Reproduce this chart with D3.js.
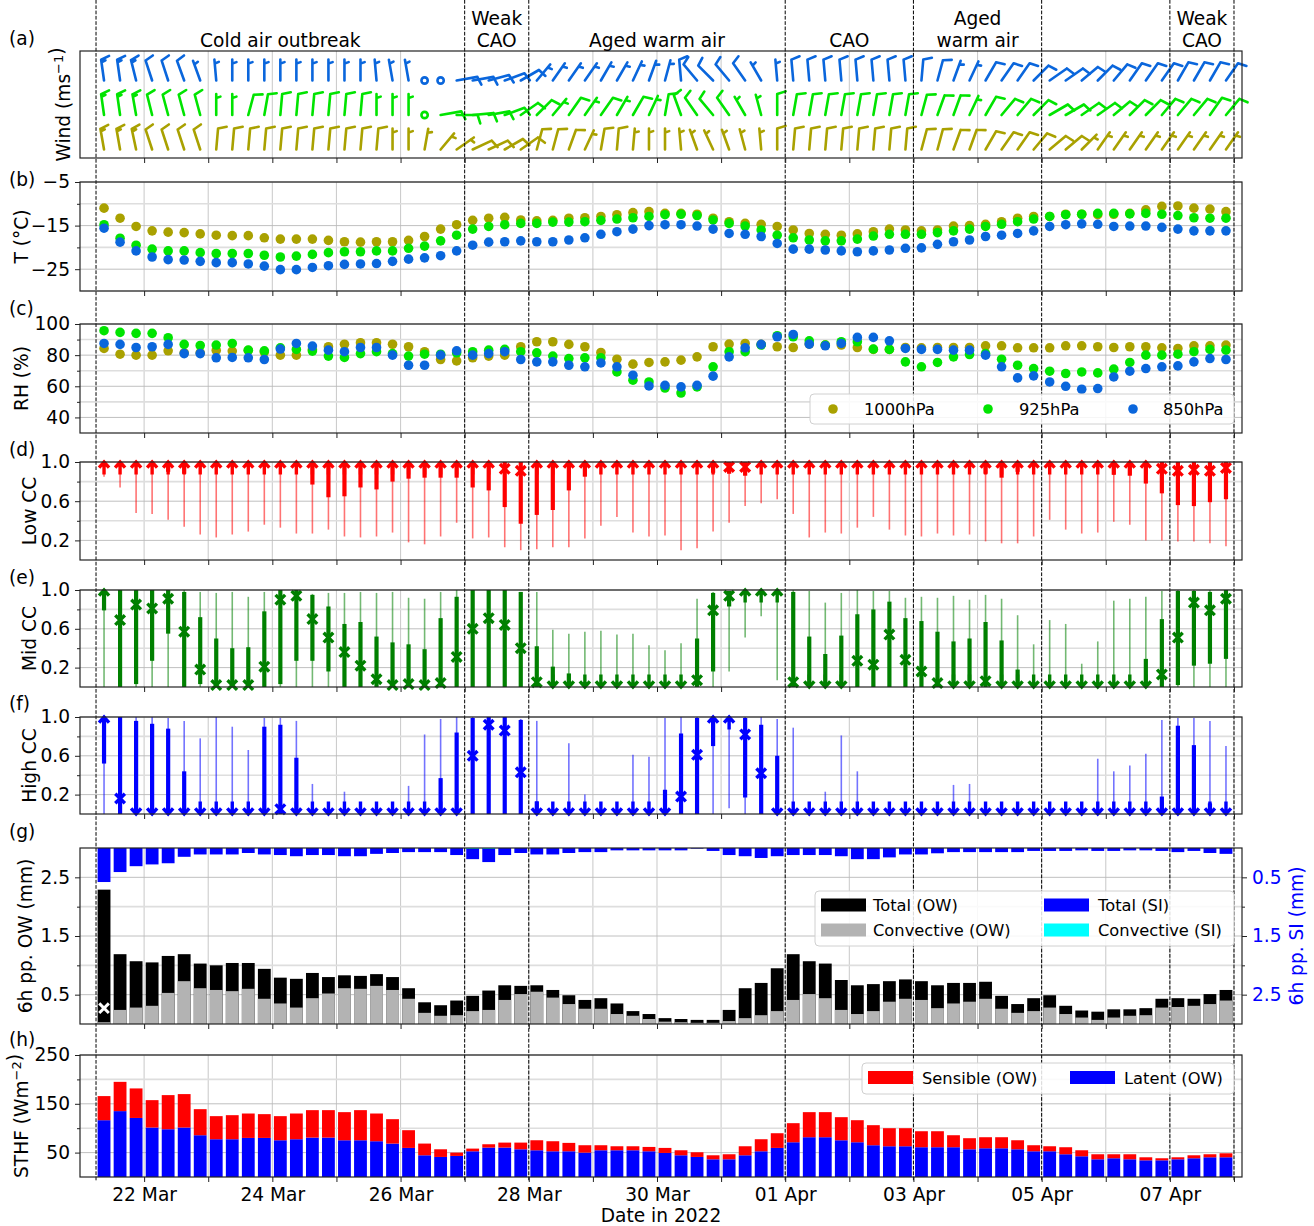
<!DOCTYPE html>
<html><head><meta charset="utf-8">
<script src="https://cdn.jsdelivr.net/npm/d3@7"></script>
<style>
body{margin:0;background:#fff;}
svg{display:block;font-family:"DejaVu Sans",sans-serif;}
</style></head><body>
<svg id="chart" width="1314" height="1226"></svg>
<script>
// ---------------- DATA ----------------
const startTime = "2022-03-21T09:00Z";   // first 6-hourly sample
const stepHours = 6;
const nSamples = 71;
const xDomain = ["2022-03-21T00:00Z", "2022-04-08T03:00Z"];
const periodBounds = ["2022-03-21T06:00Z","2022-03-27T00:00Z","2022-03-28T00:00Z","2022-04-01T00:00Z","2022-04-03T00:00Z","2022-04-05T00:00Z","2022-04-07T00:00Z","2022-04-08T00:00Z"];
const periodLabels = [["Cold air outbreak"],["Weak","CAO"],["Aged warm air"],["CAO"],["Aged","warm air"],[],["Weak","CAO"]];
const levels = ["1000hPa","925hPa","850hPa"];

// (a) wind barbs: speed (m/s) and direction wind comes from (deg)
const spd1000 = [15,15,15,10,10,10,10,10,10,10, 10,10,10,10,10,10,10,10,5,5, 5,5,5,10,10,10,10,10,10,10, 5,10,10,5,5,5,5,5,5,5, 5,5,10,10,10,10,10,10,10,10, 10,10,10,10,10,10,10,10,10,10, 10,5,5,5,5,5,5,5,5,5, 5];
const dir1000 = [350,350,348,342,342,342,342,5,5,5, 5,5,5,5,5,5,5,5,0,0, 10,40,55,65,65,60,55,15,15,20, 25,10,5,5,0,0,355,340,335,340, 345,355,0,5,5,5,5,5,5,5, 5,15,15,20,20,30,35,35,40,50, 50,45,35,35,35,35,35,35,35,35, 35];
const spd925 = [15,15,15,10,10,10,10,5,5,10, 10,10,10,10,10,10,10,5,5,5, 0,10,10,10,10,10,10,10,5,10, 5,10,5,10,5,10,10,10,10,10, 5,5,10,10,10,10,10,10,10,10, 10,10,10,10,5,10,10,10,10,10, 10,10,10,10,10,10,10,10,10,10, 10];
const dir925 = [352,352,350,346,345,345,345,0,0,15, 10,5,5,5,5,5,5,0,0,0, 0,80,90,85,80,70,55,45,40,35, 35,35,30,30,25,10,340,325,320,325, 330,345,0,10,10,10,10,10,10,10, 10,15,20,20,25,30,40,40,45,60, 60,55,55,50,45,45,40,40,40,35, 40];
const spd850 = [15,15,15,10,10,10,5,5,5,5, 5,5,5,5,5,5,5,5,5,5, 0,0,10,10,10,10,10,5,5,5, 5,5,5,5,5,5,10,10,10,10, 10,5,5,10,10,10,10,10,10,10, 10,10,10,5,5,10,10,10,10,10, 10,10,10,10,10,10,10,10,10,10, 10];
const dir850 = [352,352,346,342,342,340,340,355,0,0, 0,0,0,0,0,0,0,355,350,350, 0,0,80,80,75,70,60,40,35,35, 35,30,30,25,20,15,355,320,315,320, 325,330,355,355,355,355,355,355,355,355, 355,5,15,20,25,30,35,35,45,55, 55,50,45,40,35,35,35,30,30,30, 35];

// (b) temperature (°C)
const t1000 = [-11.0,-13.3,-15.2,-16.2,-16.5,-16.6,-16.9,-17.2,-17.3,-17.3, -17.8,-18.1,-18.1,-18.1,-18.4,-18.7,-18.8,-18.7,-18.7,-18.4, -17.5,-15.8,-14.8,-13.8,-13.3,-13.1,-13.7,-13.9,-13.8,-13.3, -13.2,-12.9,-12.5,-12.0,-11.8, -12.2,-12.2,-12.4,-13.3,-14.1,-14.5,-14.7,-15.2,-16.0,-16.8, -17.0,-17.2,-16.9,-16.4,-15.8,-16.0,-16.2,-16.0,-15.1,-15.0, -14.7,-14.1,-13.3,-12.9,-12.9,-12.4,-12.4,-12.5,-12.4,-12.2, -11.4,-10.6,-10.5,-11.0,-11.2,-11.8];
const t925 = [-14.8,-17.9,-19.5,-20.4,-20.8,-20.8,-21.2,-21.4,-21.4,-21.4, -21.8,-22.2,-22.0,-21.6,-21.2,-21.0,-21.0,-20.8,-20.8,-20.2, -19.7,-18.5,-17.2,-15.8,-15.2,-14.8,-14.5,-14.5,-14.2,-14.2, -14.1,-13.8,-13.5,-13.2,-12.9, -12.5,-12.4,-12.7,-13.7,-14.5,-15.1,-16.0,-17.2,-17.8,-18.3, -18.5,-18.5,-18.1,-17.4,-17.0,-17.0,-17.0,-16.6,-16.2,-15.8, -15.2,-14.7,-14.1,-13.5,-12.9,-12.5,-12.4,-12.2,-12.2,-12.3, -12.2,-12.4,-12.7,-13.2,-13.3,-13.3];
const t850 = [-15.6,-18.8,-20.8,-22.2,-22.8,-22.9,-23.2,-23.5,-23.5,-23.8, -24.3,-25.1,-25.1,-24.6,-24.2,-23.9,-23.8,-23.7,-23.2,-22.7, -22.4,-21.9,-20.8,-19.5,-18.8,-18.7,-18.5,-18.7,-18.7,-18.3, -17.8,-17.0,-16.4,-15.8,-15.0, -14.8,-14.8,-15.1,-15.8,-16.8,-17.0,-17.5,-19.1,-20.4,-20.4, -20.6,-20.8,-21.0,-20.8,-20.6,-20.2,-20.1,-19.3,-18.7,-18.3, -17.5,-17.2,-16.8,-16.2,-15.2,-14.8,-14.6,-14.7,-15.2,-15.1, -15.1,-15.4,-15.8,-16.2,-16.2,-16.2];

// (c) relative humidity (%)
const rh1000 = [84.3,80.6,80,80,82.8,81.5,81.5,83,82.6,83, 82,80,80,83.7,85.4,87,88,88,87,85.4, 82.2,77.2,76.3,78.3,79.4,80,85.4,88.6,88.6,86.9, 85.4,81.7,77.4,74.2,75.3, 75.7,76.8,78.9,85.4,87.1,87.5,86.9,85.4,84.9,87.1, 86.5,86.5,84.9,83.7,83.7,84.9,84.7,84.9,84.9,84.9, 86,86,84.7,84.7,84.7,86,86,85.4,84.9,85.4, 85.4,84.7,84.3,86,86,86.5];
const rh925 = [95.7,94.6,94,94,91.2,86.9,86.2,86.5,87.5,83.2, 82.8,84.7,83.7,82.6,79.4,78.5,81,82.2,81,79.4, 80.6,80.6,81.5,82.2,83.2,83.7,82.2,81.5,79.4,77.8, 78.3,78.3,69.2,63.9,62.8, 58.9,55.7,59.6,72.5,82.2,82.2,86.5,92.5,91.8,89.2, 86.5,88.6,88.6,83.9,83.7,75.7,72.5,75.3,78.9,80.4, 81,77.4,73.5,71.4,69.7,68.2,69.2,68.6,71,75.3, 80,80,80.6,82.2,83.7,83.2];
const rh850 = [87.5,86.9,84.9,85.4,86.9,81,81,78.3,78.5,78.3, 77.2,83.9,87.5,85.8,83.2,82.2,84.9,84.9,80,73.5, 73.5,80,82.8,80,81,82.2,77.2,75.7,75.7,73.5, 72.5,75,72.5,67.1,60.2, 60.6,59.6,60.6,66.5,78.9,84.7,86.9,91.8,93.3,87.1, 86,87.5,91.4,91.4,89.2,84.3,83.7,83.7,83.2,83.2, 80,72.5,65.4,66.7,62.8,60,58.1,58.5,66,69.7, 71.4,72.5,73.1,75.7,77.8,77.2];

// (d) low cloud cover: range (min/max), inner range (q1/q3), central value
const lowMin = [0.85,0.74,0.48,0.47,0.41,0.34,0.26,0.23,0.26,0.29, 0.36,0.33,0.27,0.27,0.31,0.24,0.23,0.24,0.28,0.18, 0.16,0.24,0.38,0.22,0.23,0.13,0.10,0.11,0.13,0.13, 0.22,0.35,0.44,0.28,0.24, 0.25,0.10,0.12,0.29,0.38,0.55,0.58,0.62,0.47,0.23, 0.28,0.27,0.33,0.44,0.31,0.25,0.24,0.27,0.25,0.26, 0.19,0.17,0.17,0.24,0.41,0.31,0.27,0.28,0.39,0.36, 0.20,0.20,0.19,0.19,0.17,0.14];
const lowQ1 = [0.97,0.97,0.97,0.97,0.90,0.88,0.97,0.97,0.97,0.97, 0.97,0.97,0.97,0.77,0.64,0.65,0.74,0.72,0.80,0.83, 0.84,0.84,0.84,0.74,0.71,0.54,0.37,0.46,0.51,0.71, 0.85,0.97,0.97,0.97,0.97, 0.97,0.97,0.97,0.89,0.88,0.86,0.97,0.97,0.97,0.97, 0.97,0.97,0.97,0.97,0.97,0.97,0.97,0.97,0.97,0.97, 0.88,0.84,0.90,0.97,0.97,0.97,0.97,0.97,0.87,0.86, 0.78,0.68,0.56,0.55,0.59,0.62];
const lowQ3 = [1,1,1,1,1,1,1,1,1,1, 1,1,1,1,1,1,1,1,1,1, 1,1,1,1,1,1,1,1,1,1, 1,1,1,1,1, 1,1,1,1,1,1,1,1,1,1, 1,1,1,1,1,1,1,1,1,1, 1,1,1,1,1,1,1,1,1,1, 1,1,1,1,1,1];
const lowMax = [1,1,1,1,1,1,1,1,1,1, 1,1,1,1,1,1,1,1,1,1, 1,1,1,1,1,1,1,1,1,1, 1,1,1,1,1, 1,1,1,1,1,1,1,1,1,1, 1,1,1,1,1,1,1,1,1,1, 1,1,1,1,1,1,1,1,1,1, 1,1,1,1,1,1];
const lowMed = [1,1,1,1,1,1,1,1,1,1, 1,1,1,1,1,1,1,1,1,1, 1,1,1,1,1,0.93,0.91,1,1,1, 1,1,1,1,1, 1,1,1,1,0.95,0.95,1,1,1,1, 1,1,1,1,1,1,1,1,1,1, 1,1,1,1,1,1,1,1,1,1, 1,0.93,0.91,0.92,0.91,0.94];

// (e) mid cloud cover
const midMin = [0,0,0,0,0,0,0,0,0,0, 0,0,0,0,0,0,0,0,0,0, 0,0,0,0,0,0,0,0,0,0, 0,0,0,0,0, 0,0,0,0,0.16,0.51,0.73,0.07,0,0, 0,0,0,0,0,0,0,0,0,0, 0,0,0,0,0,0,0,0,0,0, 0,0,0,0,0,0];
const midQ1 = [0.79,0,0.03,0.27,0.55,0,0.03,0,0,0, 0,0.03,0.27,0.27,0.16,0,0,0,0,0, 0,0,0,0,0,0,0,0,0,0, 0,0,0,0,0, 0,0,0,0.16,0.83,0.98,0.98,0.98,0,0, 0,0,0,0,0,0,0,0,0,0, 0,0,0,0,0,0,0,0,0,0, 0,0,0.02,0.22,0.24,0.29];
const midQ3 = [1,1,1,1,1,0.98,0.72,0.50,0.40,0.41, 0.78,1,1,0.95,0.83,0.65,0.67,0.52,0.46,0.44, 0.39,0.71,0.93,1,1,1,0.98,0.42,0.21,0.14, 0.05,0.03,0.03,0.03,0.03, 0.03,0.03,0.50,0.97,0.99,1,1,1,0.98,0.52, 0.34,0.53,0.75,0.80,0.88,0.71,0.68,0.57,0.47,0.50, 0.67,0.48,0.18,0.03,0.03,0.03,0.03,0.03,0.03,0.03, 0.29,0.70,0.99,0.99,0.98,1];
const midMax = [1,1,1,1,1,1,0.98,0.97,0.98,0.93, 0.98,1,1,0.96,0.97,0.97,0.98,0.97,0.98,0.92, 0.91,0.98,1,1,1,1,0.98,0.98,0.59,0.55, 0.57,0.58,0.54,0.55,0.43, 0.38,0.45,0.91,0.98,0.99,1,1,1,1,0.99, 0.87,0.97,1,0.99,0.99,0.92,0.93,0.92,0.94,0.90, 0.95,0.91,0.74,0.44,0.69,0.65,0.24,0.47,0.89,0.91, 0.93,0.99,1,1,1,1];
const midMed = [1,0.69,0.85,0.81,0.91,0.57,0.18,0.02,0.02,0.02, 0.21,0.90,0.94,0.70,0.51,0.36,0.22,0.08,0.02,0.03, 0.02,0.04,0.31,0.60,0.71,0.64,0.40,0.05,0,0, 0,0,0,0,0, 0,0,0.07,0.79,0.94,1,1,1,0.05,0, 0,0,0.27,0.23,0.54,0.28,0.16,0.04,0,0, 0.06,0,0,0,0,0,0,0,0,0, 0,0.13,0.51,0.87,0.79,0.91];

// (f) high cloud cover
const highMin = [0,0,0,0,0,0,0,0,0,0, 0,0,0,0,0,0,0,0,0,0, 0,0,0,0,0,0,0,0,0,0, 0,0,0,0,0, 0,0,0,0,0.06,0,0,0,0,0, 0,0,0,0,0,0,0,0,0,0, 0,0,0,0,0,0,0,0,0,0, 0,0,0,0,0,0];
const highQ1 = [0.52,0,0,0,0,0,0,0,0,0, 0,0,0,0,0,0,0,0,0,0, 0,0,0,0,0,0,0,0,0,0, 0,0,0,0,0, 0,0,0,0.70,1,0.17,0,0,0,0, 0,0,0,0,0,0,0,0,0,0, 0,0,0,0,0,0,0,0,0,0, 0,0,0,0,0,0];
const highQ3 = [1,1,0.96,0.93,0.88,0.44,0.02,0.02,0.02,0.02, 0.90,0.92,0.58,0.02,0.02,0.02,0.02,0.02,0.02,0.02, 0.02,0.37,0.84,0.99,1,1,0.97,0.13,0.02,0.02, 0.02,0.02,0.02,0.02,0.02, 0.25,0.83,0.99,1,1,0.99,0.92,0.60,0.02,0.02, 0.02,0.02,0.02,0.02,0.02,0.02,0.02,0.02,0.02,0.02, 0.02,0.02,0.02,0.02,0.02,0.02,0.02,0.02,0.02,0.02, 0.02,0.18,0.91,0.71,0.11,0.02];
const highMax = [1,1,1,1,0.99,0.96,0.78,1,0.90,0.66, 0.99,0.99,0.96,0.31,0.03,0.23,0.02,0.02,0.02,0.29, 0.82,0.98,1,1,1,1,0.98,0.96,0.02,0.73, 0.20,0.02,0.12,0.61,0.59, 0.99,1,1,1,1,1,1,0.98,0.89,0.02, 0.23,0.81,0.44,0.02,0.02,0.02,0.02,0.02,0.30,0.31, 0.05,0.02,0.02,0.02,0.02,0.02,0.02,0.57,0.44,0.50, 0.62,0.97,0.99,0.99,0.96,0.70];
const highMed = [1,0.16,0,0,0,0,0,0,0,0, 0,0.05,0,0,0,0,0,0,0,0, 0,0,0,0.60,0.92,0.86,0.43,0,0,0, 0,0,0,0,0, 0,0.18,0.61,1,1,0.82,0.42,0,0,0, 0,0,0,0,0,0,0,0,0,0, 0,0,0,0,0,0,0,0,0,0, 0,0,0,0,0,0];

// (g) 6h precipitation (mm)
const owTotal = [2.29,1.19,1.07,1.05,1.16,1.19,1.03,1.00,1.04,1.04, 0.94,0.79,0.77,0.87,0.80,0.83,0.82,0.85,0.80,0.61, 0.37,0.32,0.40,0.48,0.57,0.66,0.65,0.66,0.58,0.49, 0.41,0.44,0.35,0.22,0.17, 0.10,0.085,0.07,0.07,0.24,0.61,0.70,0.95,1.19,1.07, 1.03,0.75,0.66,0.68,0.73,0.76,0.73,0.66,0.70,0.70, 0.72,0.48,0.34,0.44,0.49,0.31,0.23,0.21,0.25,0.25, 0.27,0.43,0.44,0.43,0.51,0.58];
const owConv = [0.03,0.24,0.28,0.31,0.53,0.73,0.61,0.58,0.56,0.60, 0.43,0.35,0.28,0.44,0.52,0.61,0.60,0.65,0.58,0.43, 0.19,0.14,0.15,0.22,0.24,0.41,0.51,0.55,0.45,0.34, 0.26,0.26,0.17,0.14,0.085, 0.04,0.03,0.02,0.02,0.05,0.10,0.15,0.22,0.41,0.51, 0.44,0.24,0.17,0.22,0.38,0.43,0.41,0.27,0.35,0.38, 0.43,0.26,0.19,0.22,0.28,0.17,0.11,0.07,0.11,0.14, 0.15,0.28,0.29,0.31,0.34,0.40];
const siTotal = [0.58,0.41,0.31,0.28,0.26,0.15,0.11,0.11,0.11,0.085, 0.11,0.12,0.14,0.12,0.12,0.14,0.14,0.10,0.085,0.07, 0.07,0.07,0.12,0.19,0.24,0.12,0.085,0.11,0.11,0.085, 0.07,0.07,0.04,0.04,0.04, 0.04,0.04,0.01,0.05,0.12,0.14,0.17,0.14,0.12,0.12, 0.12,0.14,0.19,0.19,0.16,0.11,0.11,0.09,0.07,0.07, 0.07,0.07,0.07,0.05,0.05,0.05,0.04,0.05,0.05,0.04, 0.04,0.05,0.07,0.05,0.085,0.10];
const siConv = [0,0,0,0,0,0,0,0,0,0, 0,0,0,0,0,0,0,0,0,0, 0,0,0,0.015,0.015,0,0,0,0,0, 0,0,0,0,0, 0,0,0,0,0,0,0,0,0,0, 0,0,0,0,0,0,0,0,0,0, 0,0,0,0,0,0,0,0,0,0, 0,0,0,0,0,0];
const owFlag = [0.27]; // white cross on first bar

// (h) surface turbulent heat flux (W m-2)
const latent = [116.4,135,121,101.4,97.9,101.4,85.6,77.4,77.4,80.1, 80.1,75.3,77.4,80.8,80.8,75.3,75.3,73.3,68.5,59.6, 44.5,41.1,43.2,52.7,60.3,60.3,56.8,54.8,52.7,52.7, 50,54.8,54.8,54.8,52.7, 49.3,44.5,41.1,36.3,36.3,44.5,52.7,59.6,71.2,81.5, 81.5,75.3,71.2,65.1,63,63,61,61,61,56.8, 58.9,58.9,56.8,52.7,52.7,46.6,42.5,36.3,38.4,36.3, 34.2,34.2,36.3,38.4,40.4,40.4];
const sensible = [49.4,60,60.5,56.1,69.9,68.5,53.4,47.3,49.3,50, 48.7,49.4,52.7,56.2,56.2,57.6,61.7,56.8,50,36.3, 24,15.7,6.8,5.5,6.8,10.2,13.7,20.5,20.6,17.2, 15.1,10.3,8.2,8.2,8.9, 10.3,10.3,9.6,8.2,10.3,18.5,24.7,30.1,39.1,51.4, 51.4,47.3,45.2,41.1,37,37,32.8,32.8,24.6,22.7, 22.6,22.6,18.5,12.4,10.3,14.4,12.3,10.3,8.2,10.3, 6.2,4.2,4.1,6.1,6.2,8.2];

// ---------------- DRAWING ----------------
const FS = 18.6, LFS = 16.3;
const svg = d3.select("#chart");
const X0 = 80, X1 = 1242;
const times = d3.range(nSamples).map(i => new Date(Date.parse(startTime) + i*stepHours*3600e3));
const x = d3.scaleUtc().domain(xDomain.map(d => new Date(d))).range([X0, X1]);
const dayTicks = d3.utcDay.range(new Date("2022-03-22T00:00Z"), new Date(xDomain[1]));
const bw = (x(new Date(Date.parse(startTime) + stepHours*3600e3)) - x(new Date(startTime))) * 0.8;

const P = { a:[51,158], b:[182,291], c:[324,433], d:[462,560], e:[590,687], f:[717,814], g:[848,1024], h:[1055,1177] };

const gridL = svg.append("g"), dataL = svg.append("g"), dashL = svg.append("g"), axL = svg.append("g"), legL = svg.append("g");

function makeY(key, dom){ return d3.scaleLinear().domain(dom).range([P[key][1], P[key][0]]); }

function grid(key, y, major, minor){
  const [t,b] = P[key];
  gridL.append("g").selectAll("line").data(dayTicks).join("line")
    .attr("x1", d=>x(d)).attr("x2", d=>x(d)).attr("y1", t).attr("y2", b)
    .attr("stroke","#cdcdcd").attr("stroke-width",1.1);
  if (y){
    gridL.append("g").selectAll("line").data(minor).join("line")
      .attr("x1",X0).attr("x2",X1).attr("y1",d=>y(d)).attr("y2",d=>y(d))
      .attr("stroke","#dedede").attr("stroke-width",1.6);
    gridL.append("g").selectAll("line").data(major).join("line")
      .attr("x1",X0).attr("x2",X1).attr("y1",d=>y(d)).attr("y2",d=>y(d))
      .attr("stroke","#b9b9b9").attr("stroke-width",0.9);
  }
}

function styleAxis(g, color){
  g.select(".domain").remove();
  g.selectAll("line").attr("stroke", color||"#222").attr("stroke-width",1);
  g.selectAll("text").attr("font-size",FS).attr("fill", color||"#000").attr("font-family","DejaVu Sans");
}

function axes(key, y, major, minor, fmt, bottomLabels){
  const [t,b] = P[key];
  const gx = axL.append("g").attr("transform",`translate(0,${b})`)
    .call(d3.axisBottom(x).tickValues(dayTicks).tickSize(5).tickPadding(6)
      .tickFormat((d,i)=> bottomLabels && i%2===0 ? d3.utcFormat("%d %b")(d) : ""));
  styleAxis(gx);
  if (y){
    const gy = axL.append("g").attr("transform",`translate(${X0},0)`)
      .call(d3.axisLeft(y).tickValues(major).tickSize(5).tickPadding(5).tickFormat(fmt));
    styleAxis(gy);
    const gm = axL.append("g").attr("transform",`translate(${X0},0)`)
      .call(d3.axisLeft(y).tickValues(minor).tickSize(3).tickFormat(""));
    styleAxis(gm);
  }
  axL.append("rect").attr("x",X0).attr("y",t).attr("width",X1-X0).attr("height",b-t)
    .attr("fill","none").attr("stroke","#222").attr("stroke-width",1.2);
}

function ylabel(xc, key, parts, color){
  const yc = (P[key][0]+P[key][1])/2;
  const t = axL.append("text").attr("transform",`translate(${xc+6.6},${yc}) rotate(-90)`)
    .attr("text-anchor","middle").attr("font-size",FS).attr("fill",color||"#000");
  parts.forEach(p=>{
    if (p.sup) { t.append("tspan").attr("dy",-7).attr("font-size",13).text(p.sup); t.append("tspan").attr("dy",7).text(""); }
    else t.append("tspan").text(p.t);
  });
}
function letter(txt, yb){ axL.append("text").attr("x",9).attr("y",yb).attr("font-size",FS).text(txt); }

const fmtNum = d3.format(".1f");
const fmtMinus = d => (d<0 ? "\u2212"+Math.abs(d) : ""+d);

// ---- (a) wind barbs
const yA = d3.scaleLinear().domain([1,3]).range([149.5,80.5]);
grid("a", null);
const L = 21;
function barbD(x0, y0, spd, dir){
  const r = dir*Math.PI/180, u = -Math.sin(r), v = -Math.cos(r);
  const rho = Math.atan2(v,u) + Math.PI/2, c = Math.cos(rho), s = Math.sin(rho);
  const Pt = (lx,ly) => `${(x0 + lx*c - ly*s).toFixed(2)},${(y0 - (lx*s + ly*c)).toFixed(2)}`;
  const h = 0.4*L, w = 0.25*L, sp = 0.125*L;
  let d = `M${Pt(0,0)}L${Pt(0,L)}`;
  let off = L;
  const nf = Math.floor(spd/10), half = (spd - nf*10) >= 5;
  for (let k=0;k<nf;k++){ d += `M${Pt(0,off)}L${Pt(h,off+w/2)}`; off -= sp; }
  if (half){ if (off===L) off -= 1.5*sp; d += `M${Pt(0,off)}L${Pt(h/2,off+w/4)}`; }
  return d;
}
const colL = ["#a9a100","#00e400","#0a66dc"];
const barbSets = [[spd1000,dir1000,1],[spd925,dir925,2],[spd850,dir850,3]];
barbSets.forEach(([sp,dr,lev],k)=>{
  const g = dataL.append("g").attr("stroke",colL[k]).attr("fill","none").attr("stroke-width",2.6).attr("stroke-linecap","round").attr("stroke-linejoin","round");
  times.forEach((t,i)=>{
    if (sp[i] < 2.5) g.append("circle").attr("cx",x(t)).attr("cy",yA(lev)).attr("r",0.15*L);
    else g.append("path").attr("d",barbD(x(t),yA(lev),sp[i],dr[i]));
  });
});
axes("a", null);
ylabel(63, "a", [{t:"Wind (ms"},{sup:"\u22121"},{t:")"}]);
letter("(a)", 45);

// ---- (b) temperature
const yB = makeY("b",[-30,-5]);
grid("b", yB, [-5,-15,-25], [-10,-20,-30]);
[[t1000,0],[t925,1],[t850,2]].forEach(([arr,k])=>{
  dataL.append("g").selectAll("circle").data(arr).join("circle")
    .attr("cx",(d,i)=>x(times[i])).attr("cy",d=>yB(d)).attr("r",4.8).attr("fill",colL[k]);
});
axes("b", yB, [-5,-15,-25], [-10,-20], fmtMinus);
ylabel(21, "b", [{t:"T (\u00b0C)"}]);
letter("(b)", 186);

// ---- (c) RH
const yC = makeY("c",[30,100]);
grid("c", yC, [100,80,60,40], [90,70,50]);
[[rh1000,0],[rh925,1],[rh850,2]].forEach(([arr,k])=>{
  dataL.append("g").selectAll("circle").data(arr).join("circle")
    .attr("cx",(d,i)=>x(times[i])).attr("cy",d=>yC(d)).attr("r",4.8).attr("fill",colL[k]);
});
axes("c", yC, [100,80,60,40], [90,70,50], d=>""+d);
ylabel(21, "c", [{t:"RH (%)"}]);
letter("(c)", 315);
// legend c
{
  const lg = legL.append("g");
  lg.append("rect").attr("x",810).attr("y",394).attr("width",424).attr("height",30).attr("rx",4)
    .attr("fill","#fff").attr("fill-opacity",0.85).attr("stroke","#d0d0d0");
  const lx = [833,988,1133], tx = [864,1019,1163];
  levels.forEach((lab,k)=>{
    lg.append("circle").attr("cx",lx[k]).attr("cy",409).attr("r",4.8).attr("fill",colL[k]);
    lg.append("text").attr("x",tx[k]).attr("y",415).attr("font-size",LFS).text(lab);
  });
}

// ---- (d)(e)(f) cloud cover ranges
function arrowD(cx, cy, up){
  const s = up ? 1 : -1;
  return `M${cx-5},${cy+5.6*s}L${cx},${cy}L${cx+5},${cy+5.6*s}M${cx},${cy}L${cx},${cy+12.5*s}`;
}
function crossD(cx, cy){ const r=4.8; return `M${cx-r},${cy-r}L${cx+r},${cy+r}M${cx-r},${cy+r}L${cx+r},${cy-r}`; }
function ccPanel(key, color, mn, q1, q3, mx, med){
  const y = makeY(key,[0,1]);
  grid(key, y, [1.0,0.6,0.2], [0.8,0.4]);
  const g = dataL.append("g");
  times.forEach((t,i)=>{
    const cx = x(t);
    g.append("line").attr("x1",cx).attr("x2",cx).attr("y1",y(mn[i])).attr("y2",y(mx[i]))
      .attr("stroke",color).attr("stroke-opacity",0.55).attr("stroke-width",1.6);
    if (q3[i] > q1[i]) g.append("line").attr("x1",cx).attr("x2",cx).attr("y1",y(q1[i])).attr("y2",y(q3[i]))
      .attr("stroke",color).attr("stroke-width",4.2);
    let d;
    if (med[i] >= 0.995) d = arrowD(cx, y(1), true);
    else if (med[i] <= 0.005) d = arrowD(cx, y(0), false);
    else d = crossD(cx, y(med[i]));
    g.append("path").attr("d",d).attr("fill","none").attr("stroke",color).attr("stroke-width",3.4).attr("stroke-linecap","butt");
  });
  axes(key, y, [1.0,0.6,0.2], [0.8,0.4], fmtNum);
}
ccPanel("d","#ff0000", lowMin, lowQ1, lowQ3, lowMax, lowMed);
ylabel(29, "d", [{t:"Low CC"}]); letter("(d)", 456);
ccPanel("e","#008000", midMin, midQ1, midQ3, midMax, midMed);
ylabel(29, "e", [{t:"Mid CC"}]); letter("(e)", 584);
ccPanel("f","#0000ff", highMin, highQ1, highQ3, highMax, highMed);
ylabel(29, "f", [{t:"High CC"}]); letter("(f)", 710);

// ---- (g) precipitation
const yG = makeY("g",[0,3]);
const yGr = d3.scaleLinear().domain([0,3]).range([P.g[0], P.g[1]]);
grid("g", yG, [2.5,1.5,0.5], [2.0,1.0]);
{
  const g = dataL.append("g");
  g.selectAll(".tot").data(owTotal).join("rect").attr("x",(d,i)=>x(times[i])-bw/2).attr("width",bw)
    .attr("y",d=>yG(d)).attr("height",d=>yG(0)-yG(d)).attr("fill","#000");
  g.selectAll(".conv").data(owConv).join("rect").attr("x",(d,i)=>x(times[i])-bw/2).attr("width",bw)
    .attr("y",d=>yG(d)).attr("height",d=>yG(0)-yG(d)).attr("fill","#b3b3b3");
  g.selectAll(".si").data(siTotal).join("rect").attr("x",(d,i)=>x(times[i])-bw/2).attr("width",bw)
    .attr("y",yGr(0)).attr("height",d=>yGr(d)-yGr(0)).attr("fill","#0000ff");
  g.selectAll(".sic").data(siConv).join("rect").attr("x",(d,i)=>x(times[i])-bw/2).attr("width",bw)
    .attr("y",yGr(0)).attr("height",d=>yGr(d)-yGr(0)).attr("fill","#00ffff");
  g.append("path").attr("d",crossD(x(times[0]), yG(owFlag[0]))).attr("stroke","#fff").attr("stroke-width",3);
}
axes("g", yG, [2.5,1.5,0.5], [2.0,1.0], fmtNum);
{
  const gr = axL.append("g").attr("transform",`translate(${X1},0)`)
    .call(d3.axisRight(yGr).tickValues([0.5,1.5,2.5]).tickSize(5).tickPadding(5).tickFormat(fmtNum));
  styleAxis(gr); gr.selectAll("text").attr("fill","#0000ff"); gr.selectAll("line").attr("stroke","#222");
  const gm = axL.append("g").attr("transform",`translate(${X1},0)`)
    .call(d3.axisRight(yGr).tickValues([1.0,2.0]).tickSize(3).tickFormat(""));
  styleAxis(gm);
}
ylabel(25, "g", [{t:"6h pp. OW (mm)"}]);
ylabel(1296, "g", [{t:"6h pp. SI (mm)"}], "#0000ff");
letter("(g)", 838);
{
  const lg = legL.append("g");
  lg.append("rect").attr("x",815).attr("y",891).attr("width",419).attr("height",55).attr("rx",4)
    .attr("fill","#fff").attr("fill-opacity",0.85).attr("stroke","#d0d0d0");
  const items = [["Total (OW)","#000",821,873,905],["Convective (OW)","#b3b3b3",821,873,930],
                 ["Total (SI)","#0000ff",1044,1098,905],["Convective (SI)","#00ffff",1044,1098,930]];
  items.forEach(([lab,c,px,tx,cy])=>{
    lg.append("rect").attr("x",px).attr("y",cy-6.5).attr("width",45).attr("height",13).attr("fill",c);
    lg.append("text").attr("x",tx).attr("y",cy+6).attr("font-size",LFS).text(lab);
  });
}

// ---- (h) heat fluxes
const yH = makeY("h",[0,250]);
grid("h", yH, [250,150,50], [200,100]);
{
  const rows = times.map((t,i)=>({t, latent: latent[i], sensible: sensible[i]}));
  const stack = d3.stack().keys(["latent","sensible"])(rows);
  const cols = {latent:"#0000ff", sensible:"#ff0000"};
  stack.forEach(s=>{
    dataL.append("g").selectAll("rect").data(s).join("rect")
      .attr("x",d=>x(d.data.t)-bw/2).attr("width",bw)
      .attr("y",d=>yH(d[1])).attr("height",d=>yH(d[0])-yH(d[1])).attr("fill",cols[s.key]);
  });
}
axes("h", yH, [250,150,50], [200,100], d=>""+d, true);
ylabel(21, "h", [{t:"STHF (Wm"},{sup:"\u22122"},{t:")"}]);
letter("(h)", 1046);
axL.append("text").attr("x",(X0+X1)/2).attr("y",1222).attr("text-anchor","middle").attr("font-size",FS).text("Date in 2022");
{
  const lg = legL.append("g");
  lg.append("rect").attr("x",862).attr("y",1063).attr("width",372).attr("height",31).attr("rx",4)
    .attr("fill","#fff").attr("fill-opacity",0.85).attr("stroke","#d0d0d0");
  [["Sensible (OW)","#ff0000",868,922],["Latent (OW)","#0000ff",1070,1124]].forEach(([lab,c,px,tx])=>{
    lg.append("rect").attr("x",px).attr("y",1071).attr("width",45).attr("height",13).attr("fill",c);
    lg.append("text").attr("x",tx).attr("y",1083.5).attr("font-size",LFS).text(lab);
  });
}

// ---- period boundaries and labels
const bounds = periodBounds.map(d=>new Date(d));
dashL.selectAll("line").data(bounds).join("line")
  .attr("x1",d=>x(d)).attr("x2",d=>x(d)).attr("y1",0).attr("y2",1181)
  .attr("stroke","#000").attr("stroke-width",1).attr("stroke-dasharray","3.7,1.6");
periodLabels.forEach((lines,k)=>{
  const cx = (x(bounds[k]) + x(bounds[k+1]))/2;
  lines.forEach((ln,j)=>{
    const yb = lines.length===1 ? 46.5 : (j===0 ? 25 : 46.5);
    axL.append("text").attr("x",cx).attr("y",yb).attr("text-anchor","middle").attr("font-size",FS).text(ln);
  });
});
</script></body></html>
